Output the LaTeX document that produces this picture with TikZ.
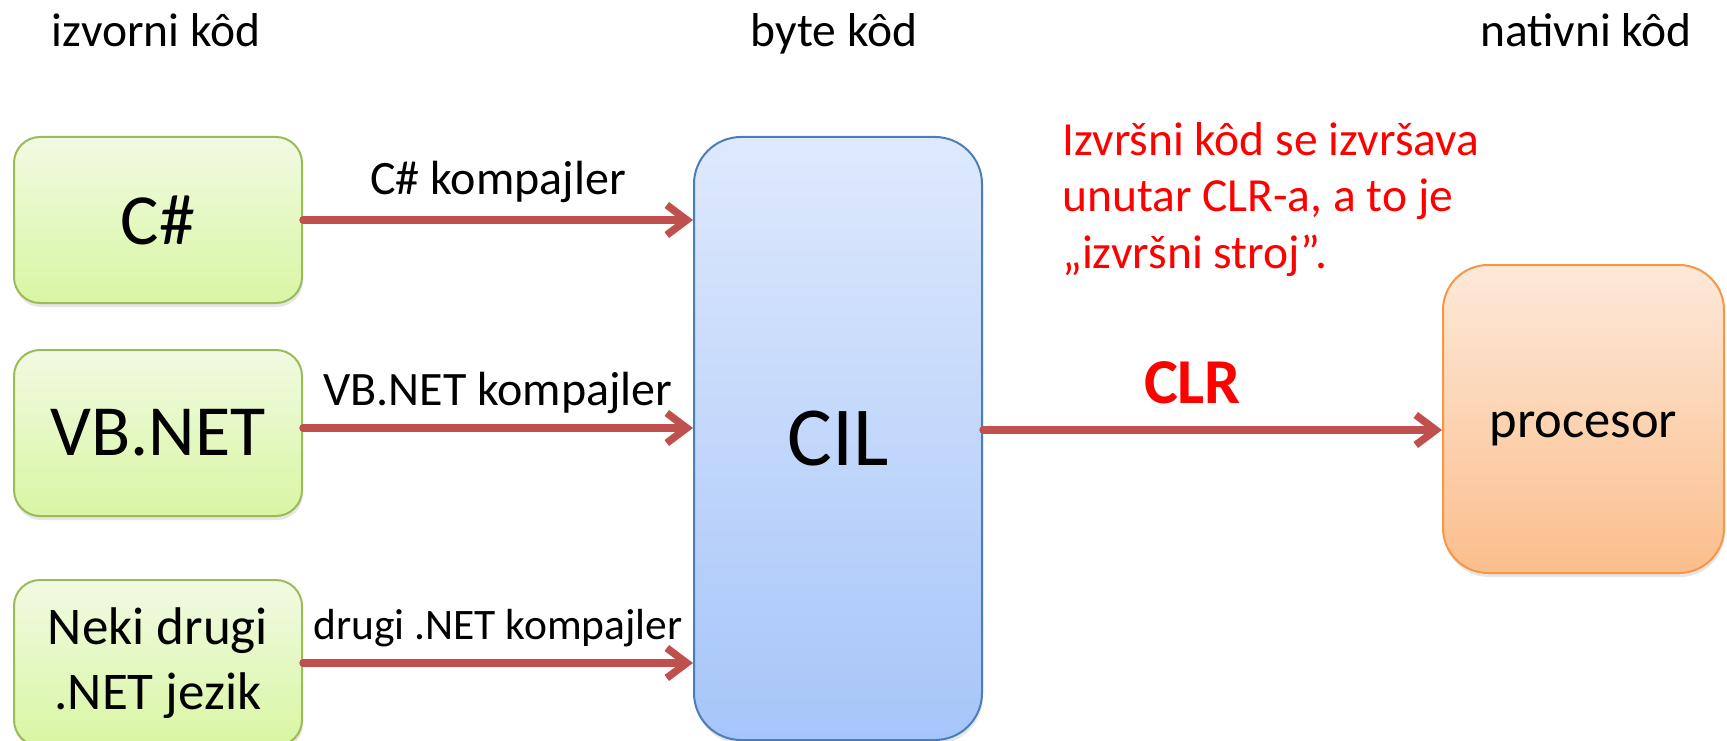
\documentclass[tikz,border=0pt]{standalone}
\usepackage{fontspec}
\setmainfont{Carlito}
\usepackage{xcolor}
\usetikzlibrary{shapes,arrows.meta,positioning,shadows}
\definecolor{langtop}{RGB}{241,250,226}
\definecolor{langbot}{RGB}{216,246,163}
\definecolor{langdraw}{RGB}{155,187,89}
\definecolor{ciltop}{RGB}{222,233,252}
\definecolor{cilbot}{RGB}{166,197,249}
\definecolor{cildraw}{RGB}{74,126,187}
\definecolor{cputop}{RGB}{253,233,217}
\definecolor{cpubot}{RGB}{251,190,140}
\definecolor{cpudraw}{RGB}{247,150,70}
\definecolor{arrowred}{RGB}{192,80,77}

\begin{document}
\begin{tikzpicture}[
    x=1pt, y=-1pt,
    box/.style={rectangle, draw, line width=2pt, inner sep=0pt, align=center,
        drop shadow={shadow xshift=1pt, shadow yshift=-4pt, opacity=0.2}},
    lang/.style={box, rounded corners=26pt, minimum width=288pt, minimum height=166pt,
        top color=langtop, bottom color=langbot, draw=langdraw, font=\fontsize{72}{88}\selectfont},
    bytebox/.style={box, rounded corners=47pt, minimum width=288pt, minimum height=603pt,
        top color=ciltop, bottom color=cilbot, draw=cildraw, font=\fontsize{84}{100}\selectfont},
    native/.style={box, rounded corners=45pt, minimum width=281pt, minimum height=308pt,
        top color=cputop, bottom color=cpubot, draw=cpudraw, font=\fontsize{52.5}{64}\selectfont},
    heading/.style={anchor=base, inner sep=0pt, font=\fontsize{47.5}{58}\selectfont},
    label/.style={midway, above, inner sep=0pt, font=\fontsize{48}{58}\selectfont},
    arrow/.style={-{Straight Barb[length=20pt, width=30pt]}, line width=7.5pt,
        line cap=round, line join=round, draw=arrowred}
]
\useasboundingbox (0,0) rectangle (1727,741);

% Headings
\node[heading] (src) at (156,47) {izvorni kôd};
\node[heading] (byte) at (834,47) {byte kôd};
\node[heading] (nat) at (1586,47) {nativni kôd};

% Source languages
\node[lang] (csharp) at (158,220) {C\#};
\node[lang, below=45pt of csharp] (vbnet) {VB.NET};
\node[lang, below=62pt of vbnet, font=\fontsize{53}{65}\selectfont] (other) {Neki drugi\\.NET jezik};

% CIL
\node[bytebox, right=390pt of csharp.north east, anchor=north west] (cil) {CIL};

% Processor
\node[native, text height=36pt, text depth=0pt] (cpu) at (1583.5,419) {procesor};

% Note
\node[anchor=base west, inner sep=0pt, align=left, text=red,
    font=\fontsize{47.5}{56.5}\selectfont] (note) at (1062,268)
    {Izvršni kôd se izvršava\\unutar CLR-a, a to je\\„izvršni stroj”.};

% Arrows
\draw[arrow] (csharp.east) -- node[label, yshift=14pt] {C\# kompajler} (csharp.east -| cil.west);
\draw[arrow] ([yshift=5pt]vbnet.east) -- node[label, yshift=11pt] {VB.NET kompajler} ([yshift=5pt]vbnet.east -| cil.west);
\draw[arrow] (other.east) -- node[label, yshift=12pt, font=\fontsize{43.5}{52}\selectfont] {drugi .NET kompajler} (other.east -| cil.west);
\draw[arrow] ([yshift=-11pt]cpu.west -| cil.east) -- node[label, xshift=-20pt, yshift=22pt, text=red, font=\fontsize{64}{76}\bfseries\selectfont] {CLR} ([yshift=-11pt]cpu.west);

\end{tikzpicture}
\end{document}
